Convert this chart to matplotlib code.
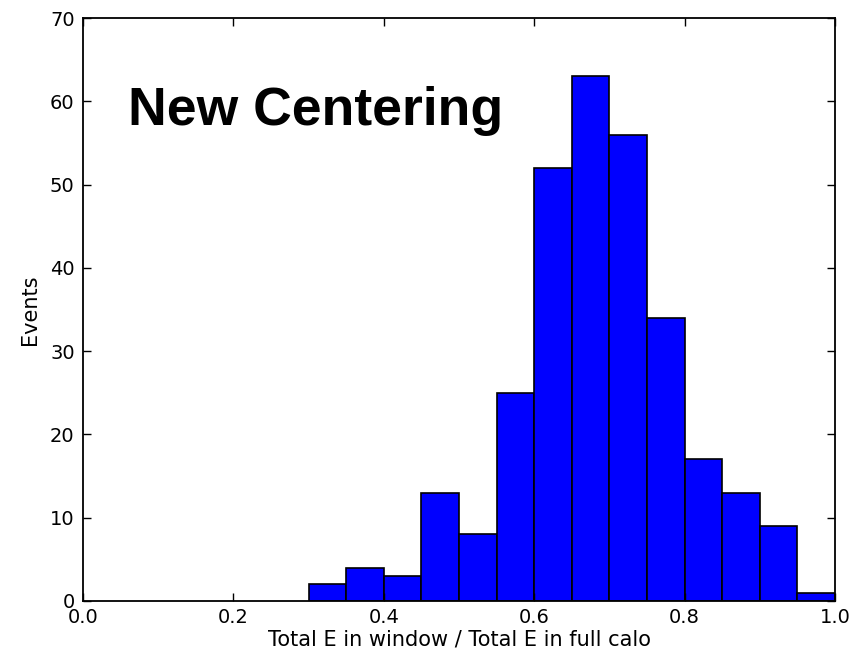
import matplotlib
matplotlib.use("Agg")
import matplotlib.pyplot as plt

bin_edges = [0.30, 0.35, 0.40, 0.45, 0.50, 0.55, 0.60, 0.65, 0.70, 0.75, 0.80, 0.85, 0.90, 0.95, 1.00]
counts = [2, 4, 3, 13, 8, 25, 52, 63, 56, 34, 17, 13, 9, 1]
x_ticks = [0.0, 0.2, 0.4, 0.6, 0.8, 1.0]
y_ticks = [0, 10, 20, 30, 40, 50, 60, 70]

fig = plt.figure(figsize=(8.59, 6.54), dpi=100)
ax = fig.add_axes([83/859, 1-601/654, (835-83)/859, (601-18)/654])

ax.hist(bin_edges[:-1], bins=bin_edges, weights=counts, color="#0000ff",
        edgecolor="black", linewidth=1.2)

ax.set_xlim(0, 1)
ax.set_ylim(0, 70)
ax.set_xticks(x_ticks)
ax.set_yticks(y_ticks)
ax.set_xticklabels([f"{t:.1f}" for t in x_ticks])
ax.set_yticklabels([str(t) for t in y_ticks])
ax.tick_params(direction="in", top=True, right=True, length=6, width=1,
               labelsize=14)
ax.tick_params(axis="x", pad=5)
ax.tick_params(axis="y", pad=6)
for s in ax.spines.values():
    s.set_linewidth(1.3)

ax.set_xlabel("Total E in window / Total E in full calo", fontsize=15, labelpad=2)
ax.set_ylabel("Events", fontsize=15, labelpad=7)

ax.text(0.06, 0.84, "New Centering", transform=ax.transAxes,
        fontsize=38.5, fontweight="bold", family="Liberation Sans",
        ha="left", va="center")

fig.savefig("out.png", dpi=100)
